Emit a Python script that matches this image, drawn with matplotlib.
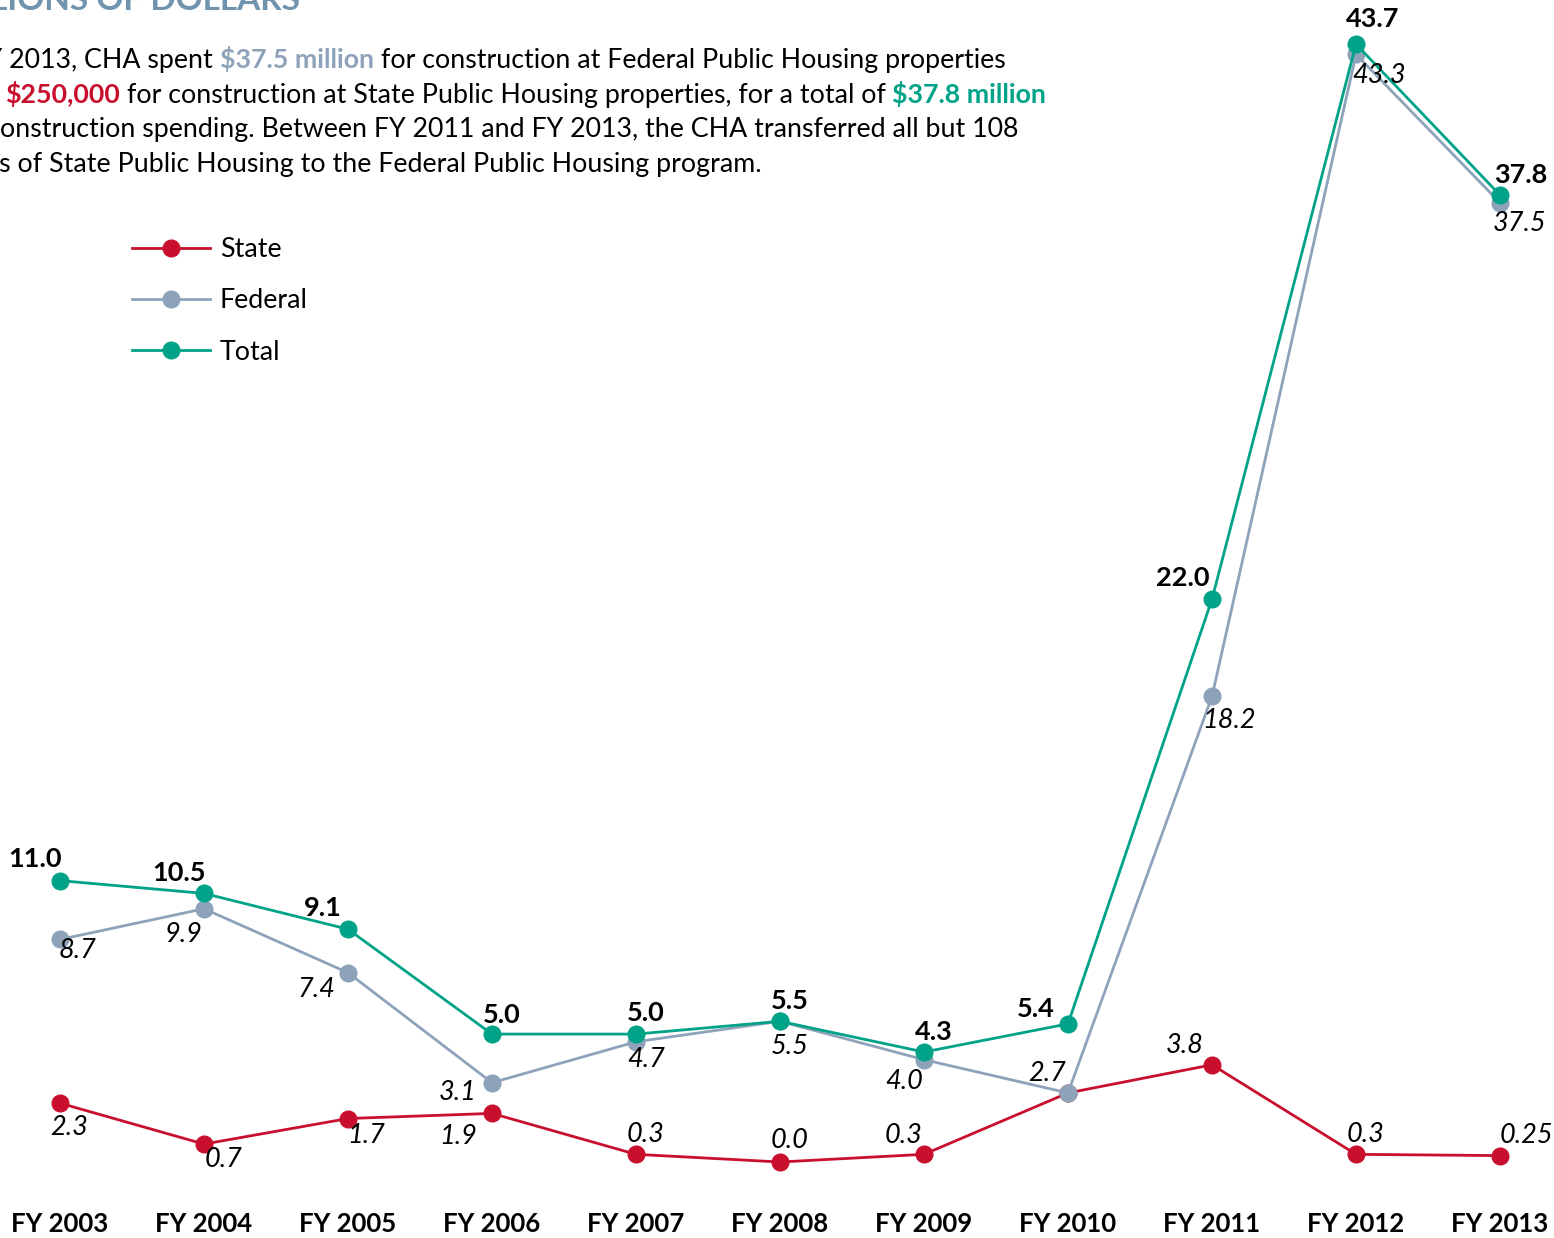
import matplotlib
matplotlib.use('Agg')
import matplotlib.pyplot as plt

plt.rcParams['font.family'] = ['Lato', 'DejaVu Sans']

years = ['FY 2003', 'FY 2004', 'FY 2005', 'FY 2006', 'FY 2007', 'FY 2008',
         'FY 2009', 'FY 2010', 'FY 2011', 'FY 2012', 'FY 2013']
state = [2.3, 0.7, 1.7, 1.9, 0.3, 0.0, 0.3, 2.7, 3.8, 0.3, 0.25]
federal = [8.7, 9.9, 7.4, 3.1, 4.7, 5.5, 4.0, 2.7, 18.2, 43.3, 37.5]
total = [11.0, 10.5, 9.1, 5.0, 5.0, 5.5, 4.3, 5.4, 22.0, 43.7, 37.8]
state_unlabeled = [7]  # FY 2010 state point sits under the federal point

# label offsets in pixels (dx right, dy down)
total_off = [(-25, -22), (-25, -20), (-25, -21), (10, -19), (10, -21), (10, -20),
             (10, -20), (-32, -15), (-29, -21), (17, -25), (21, -20)]
federal_off = [(18, 11), (-21, 26), (-32, 17), (-34, 10), (10, 18), (10, 25),
               (-20, 22), (-21, -19), (17, 24), (23, 21), (20, 21)]
state_off = [(9, 24), (20, 15), (18, 17), (-34, 23), (10, -20), (10, -21),
             (-20, -19), (0, 0), (-27, -19), (10, -20), (26, -20)]

RED = '#c8102e'
GREY = '#8ea3ba'
GREEN = '#00a387'
TITLE = '#7094ae'

W, H = 1554, 1238
fig = plt.figure(figsize=(W / 100, H / 100), dpi=100)
ax = fig.add_axes([0, 38 / H, 1, 1 - 38 / H])

px_per_unit = 25.58
ax.set_xlim(-60 / 144, 10 + 54 / 144)
ax.set_ylim(-38 / px_per_unit, 1162 / px_per_unit)
for s in ax.spines.values():
    s.set_visible(False)
ax.set_yticks([])

x = list(range(len(years)))
ax.set_xticks(x)
ax.set_xticklabels(years, fontsize=18.5, fontweight='bold')
ax.tick_params(axis='x', length=0, pad=9)

line_kw = dict(marker='o', markersize=12, linewidth=2)
ax.plot(x, state, color=RED, label='State', zorder=2, **line_kw)
ax.plot(x, federal, color=GREY, label='Federal', zorder=3, **line_kw)
ax.plot(x, total, color=GREEN, label='Total', zorder=4, **line_kw)


def fmt(v):
    return '%.2f' % v if round(v, 1) != v else '%.1f' % v


LFS = 19.5
for i in x:
    dx, dy = total_off[i]
    ax.annotate(fmt(total[i]), (i, total[i]), xytext=(dx, -dy),
                textcoords='offset pixels', ha='center', va='center',
                fontsize=LFS, fontweight='bold', color='black', zorder=6)
    dx, dy = federal_off[i]
    ax.annotate(fmt(federal[i]), (i, federal[i]), xytext=(dx, -dy),
                textcoords='offset pixels', ha='center', va='center',
                fontsize=LFS, fontstyle='italic', color='black', zorder=6)
    if i not in state_unlabeled:
        dx, dy = state_off[i]
        ax.annotate(fmt(state[i]), (i, state[i]), xytext=(dx, -dy),
                    textcoords='offset pixels', ha='center', va='center',
                    fontsize=LFS, fontstyle='italic', color='black', zorder=6)

FS = 19.3
leg = ax.legend(loc='upper left', bbox_to_anchor=(132 / W, 1 - 237 / H),
                bbox_transform=fig.transFigure, frameon=False, fontsize=FS,
                handlelength=2.9, handletextpad=0.38, labelspacing=0.98,
                borderpad=0, borderaxespad=0)

# title and paragraph, laid out run by run in pixel coordinates
renderer = fig.canvas.get_renderer()


def width(s, weight='normal'):
    t = fig.text(0, 0, s, fontsize=FS, fontweight=weight)
    w = t.get_window_extent(renderer).width
    t.remove()
    return w


gap = width('a a') - width('aa')


def draw_runs(y, runs, x0):
    xp = x0
    for text, color, weight in runs:
        t = fig.text(xp / W, 1 - y / H, text, fontsize=FS, color=color,
                     fontweight=weight, ha='left', va='baseline')
        xp += t.get_window_extent(renderer).width + gap


fig.text(300 / W, 1 - 10 / H, 'IN MILLIONS OF DOLLARS', fontsize=24,
         fontweight='bold', color=TITLE, ha='right', va='baseline')

K = 'black'
draw_runs(68, [('In FY 2013, CHA spent', K, 'normal'),
               ('$37.5 million', GREY, 'bold'),
               ('for construction at Federal Public Housing properties', K, 'normal')],
          220 - width('In FY 2013, CHA spent') - gap)
draw_runs(103, [('and', K, 'normal'),
                ('$250,000', RED, 'bold'),
                ('for construction at State Public Housing properties, for a total of', K, 'normal'),
                ('$37.8 million', GREEN, 'bold')],
          5 - width('and') - gap)
draw_runs(137, [('in construction spending. Between FY 2011 and FY 2013, the CHA transferred all but 108', K, 'normal')],
          0 - width('in c'))
draw_runs(172, [('units of State Public Housing to the Federal Public Housing program.', K, 'normal')],
          -1 - width('unit'))

fig.savefig('out.png', dpi=100)
